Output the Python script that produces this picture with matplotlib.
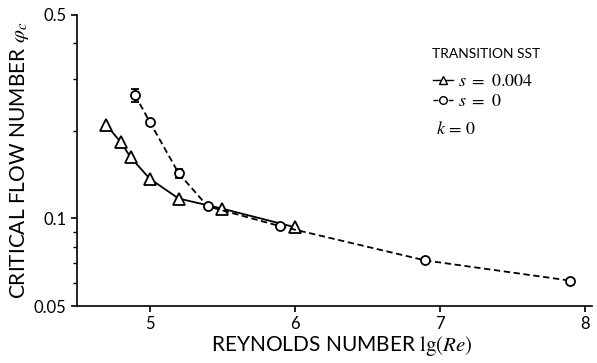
import numpy as np
import matplotlib.pyplot as plt
from matplotlib.lines import Line2D
from matplotlib.ticker import FixedLocator, NullFormatter, FixedFormatter

plt.rcParams['font.family'] = ['Lato', 'DejaVu Sans']
plt.rcParams['mathtext.fontset'] = 'stix'

# s = 0.004 (triangles, solid)
re_tri = [4.7, 4.8, 4.87, 5.0, 5.2, 5.5, 6.0]
phi_tri = [0.210, 0.183, 0.162, 0.137, 0.117, 0.108, 0.0933]

# s = 0 (circles, dashed)
re_circ = [4.9, 5.0, 5.2, 5.4, 5.9, 6.9, 7.9]
phi_circ = [0.265, 0.215, 0.143, 0.110, 0.094, 0.0717, 0.0611]
err_circ = [0.014, 0, 0.005, 0, 0, 0, 0]

xticks = [5, 6, 7, 8]
yticks = [0.05, 0.1, 0.5]
ytick_labels = ['0.05', '0.1', '0.5']
yminor = [0.06, 0.07, 0.08, 0.09, 0.2, 0.3, 0.4]

dash = (0, (3.5, 2))

fig = plt.figure(figsize=(5.97, 3.63), dpi=100)
ax = fig.add_axes([0.129, 0.157, 0.863, 0.802])

ax.plot(re_tri, phi_tri, color='black', lw=1.3, marker='^', ms=8,
        mfc='white', mec='black', mew=1.3)
ax.errorbar(re_circ, phi_circ, yerr=err_circ, color='black', lw=1.3, ls=dash,
            marker='o', ms=6.5, mfc='white', mec='black', mew=1.3,
            capsize=3, elinewidth=1.3, capthick=1.3)

ax.set_yscale('log')
ax.set_xlim(4.5, 8.05)
ax.set_ylim(0.05, 0.5)
ax.set_xticks(xticks)
ax.yaxis.set_major_locator(FixedLocator(yticks))
ax.yaxis.set_major_formatter(FixedFormatter(ytick_labels))
ax.yaxis.set_minor_locator(FixedLocator(yminor))
ax.yaxis.set_minor_formatter(NullFormatter())

for s in ['top', 'right']:
    ax.spines[s].set_visible(False)
for s in ['left', 'bottom']:
    ax.spines[s].set_linewidth(1.2)
ax.tick_params(which='major', length=4, width=1.2, labelsize=12, direction='out')
ax.tick_params(which='minor', length=3, width=1.0, direction='out')

ax.set_xlabel(r'REYNOLDS NUMBER $\mathrm{lg}(Re)$', fontsize=15, labelpad=2)
ax.xaxis.set_label_coords(0.515, -0.095)
ax.set_ylabel(r'CRITICAL FLOW NUMBER $\varphi_c$', fontsize=15, labelpad=2)

# legend block
ax.text(0.689, 0.866, 'TRANSITION SST', transform=ax.transAxes, fontsize=10, va='center')
handles = [
    Line2D([], [], color='black', lw=1.0, marker='^', ms=6, mfc='white', mec='black'),
    Line2D([], [], color='black', lw=1.0, ls=dash, marker='o', ms=5.5, mfc='white', mec='black'),
]
labels = [r'$s\ =\ 0.004$', r'$s\ =\ 0$']
ax.legend(handles, labels, loc='upper left', bbox_to_anchor=(0.691, 0.80), frameon=False,
          fontsize=13, handlelength=1.1, handletextpad=0.3, labelspacing=0.22,
          borderpad=0, borderaxespad=0)
ax.text(0.697, 0.609, r'$k\,=\,0$', transform=ax.transAxes, fontsize=13, va='center')

fig.savefig('out.png', dpi=100)
